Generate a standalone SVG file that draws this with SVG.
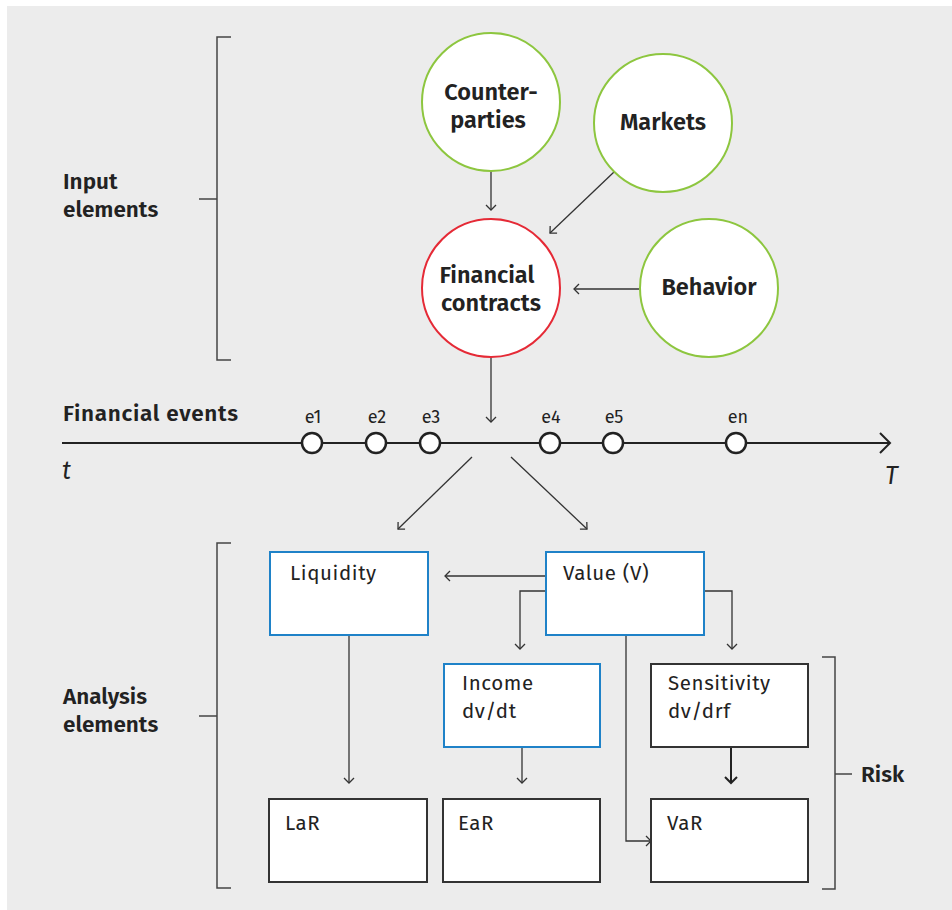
<svg xmlns="http://www.w3.org/2000/svg" width="952" height="910" viewBox="0 0 952 910">
<style>
  text { font-family: "Fira Sans", "Noto Sans", "Open Sans", sans-serif; fill: #222; }
  .lbl { font-size: 22.5px; font-weight: 600; }
  .ctxt { font-size: 23.5px; font-weight: 600; text-anchor: middle; }
  .btxt { font-size: 20.5px; letter-spacing: 0.6px; }
  .ev { font-size: 18px; text-anchor: middle; }
  .circ-g { fill: #fff; stroke: #8dc63f; stroke-width: 2; }
  .circ-r { fill: #fff; stroke: #e52a36; stroke-width: 2; }
  .box-b { fill: #fff; stroke: #1f82c8; stroke-width: 2; }
  .box-k { fill: #fff; stroke: #333; stroke-width: 2; }
  .conn { fill: none; stroke: #333; stroke-width: 1.3; }
  .brk { fill: none; stroke: #444; stroke-width: 1.5; }
  .evc { fill: #fff; stroke: #222; stroke-width: 2.5; }
</style>
<defs>
  <marker id="arr" markerUnits="userSpaceOnUse" markerWidth="14" markerHeight="14" refX="9" refY="6" orient="auto">
    <path d="M4,1 L9,6 L4,11" fill="none" stroke="#333" stroke-width="1.3"/>
  </marker>
  <marker id="arrB" markerUnits="userSpaceOnUse" markerWidth="16" markerHeight="16" refX="10" refY="7" orient="auto">
    <path d="M4,1 L10,7 L4,13" fill="none" stroke="#222" stroke-width="2"/>
  </marker>
</defs>
<rect x="7" y="6" width="945" height="904" fill="#ececec"/>

<g id="brackets">
  <path class="brk" d="M231,37 H217 V360 H231 M199,199 H217"/>
  <path class="brk" d="M231,543 H217 V888 H231 M199,716 H217"/>
  <path class="brk" d="M822,657 H835 V889 H822 M835,774 H852"/>
</g>
<g id="labels">
  <text class="lbl" x="63" y="189">Input</text>
  <text class="lbl" x="63" y="217">elements</text>
  <text class="lbl" x="63" y="704">Analysis</text>
  <text class="lbl" x="63" y="732">elements</text>
  <text class="lbl" x="861" y="782">Risk</text>
  <text class="lbl" x="63" y="421" textLength="175">Financial events</text>
  <text x="62" y="479" font-size="25" font-style="italic">t</text>
  <text x="885" y="484" font-size="25" font-style="italic">T</text>
</g>

<g id="connectors">
  <line class="conn" x1="491" y1="171" x2="491" y2="210" marker-end="url(#arr)"/>
  <line class="conn" x1="614" y1="172" x2="550" y2="233" marker-end="url(#arr)"/>
  <line class="conn" x1="639" y1="289" x2="574" y2="289" marker-end="url(#arr)"/>
  <line class="conn" x1="491" y1="357" x2="491" y2="422" marker-end="url(#arr)"/>
  <line class="conn" x1="472" y1="457" x2="398" y2="529" marker-end="url(#arr)"/>
  <line class="conn" x1="511" y1="457" x2="587" y2="529" marker-end="url(#arr)"/>
  <line class="conn" x1="546" y1="576" x2="445" y2="576" marker-end="url(#arr)"/>
  <path class="conn" d="M546,591 H520 V649" marker-end="url(#arr)"/>
  <path class="conn" d="M703,591 H732 V649" marker-end="url(#arr)"/>
  <path class="conn" d="M626,635 V841 H651" marker-end="url(#arr)"/>
  <line class="conn" x1="349" y1="635" x2="349" y2="783" marker-end="url(#arr)"/>
  <line class="conn" x1="522" y1="748" x2="522" y2="783" marker-end="url(#arr)"/>
  <line x1="731" y1="748" x2="731" y2="783" stroke="#222" stroke-width="2" marker-end="url(#arrB)"/>
</g>

<g id="timeline">
  <line x1="62" y1="443" x2="889" y2="443" stroke="#222" stroke-width="2"/>
  <path d="M880,433 L890,443 L880,453" fill="none" stroke="#222" stroke-width="2"/>
</g>
<g id="e1"><circle class="evc" cx="312" cy="443" r="10"/><text class="ev" x="313" y="423">e1</text></g>
<g id="e2"><circle class="evc" cx="376" cy="443" r="10"/><text class="ev" x="377" y="423">e2</text></g>
<g id="e3"><circle class="evc" cx="430" cy="443" r="10"/><text class="ev" x="431" y="423">e3</text></g>
<g id="e4"><circle class="evc" cx="550" cy="443" r="10"/><text class="ev" x="551" y="423">e4</text></g>
<g id="e5"><circle class="evc" cx="613" cy="443" r="10"/><text class="ev" x="614" y="423">e5</text></g>
<g id="en"><circle class="evc" cx="736" cy="443" r="10"/><text class="ev" x="738" y="423">en</text></g>

<g id="counterparties">
  <circle class="circ-g" cx="491" cy="102" r="69"/>
  <text class="ctxt" x="491" y="100">Counter-</text>
  <text class="ctxt" x="488" y="128">parties</text>
</g>
<g id="markets">
  <circle class="circ-g" cx="663" cy="123" r="69"/>
  <text class="ctxt" x="663" y="130">Markets</text>
</g>
<g id="contracts">
  <circle class="circ-r" cx="491" cy="288" r="69"/>
  <text class="ctxt" x="487" y="283">Financial</text>
  <text class="ctxt" x="491" y="311">contracts</text>
</g>
<g id="behavior">
  <circle class="circ-g" cx="709" cy="288" r="69"/>
  <text class="ctxt" x="709" y="295">Behavior</text>
</g>

<g id="liquidity"><rect class="box-b" x="270" y="552" width="158" height="83"/><text class="btxt" x="290" y="580">Liquidity</text></g>
<g id="value"><rect class="box-b" x="546" y="552" width="158" height="83"/><text class="btxt" x="563" y="580">Value (V)</text></g>
<g id="income"><rect class="box-b" x="444" y="664" width="156" height="83"/><text class="btxt" x="462" y="690">Income</text><text class="btxt" x="462" y="718">dv/dt</text></g>
<g id="sensitivity"><rect class="box-k" x="651" y="664" width="157" height="83"/><text class="btxt" x="668" y="690">Sensitivity</text><text class="btxt" x="668" y="718">dv/drf</text></g>
<g id="lar"><rect class="box-k" x="269" y="799" width="158" height="83"/><text class="btxt" x="285" y="830">LaR</text></g>
<g id="ear"><rect class="box-k" x="443" y="799" width="157" height="83"/><text class="btxt" x="458" y="830">EaR</text></g>
<g id="var"><rect class="box-k" x="651" y="799" width="157" height="83"/><text class="btxt" x="667" y="830">VaR</text></g>
</svg>
